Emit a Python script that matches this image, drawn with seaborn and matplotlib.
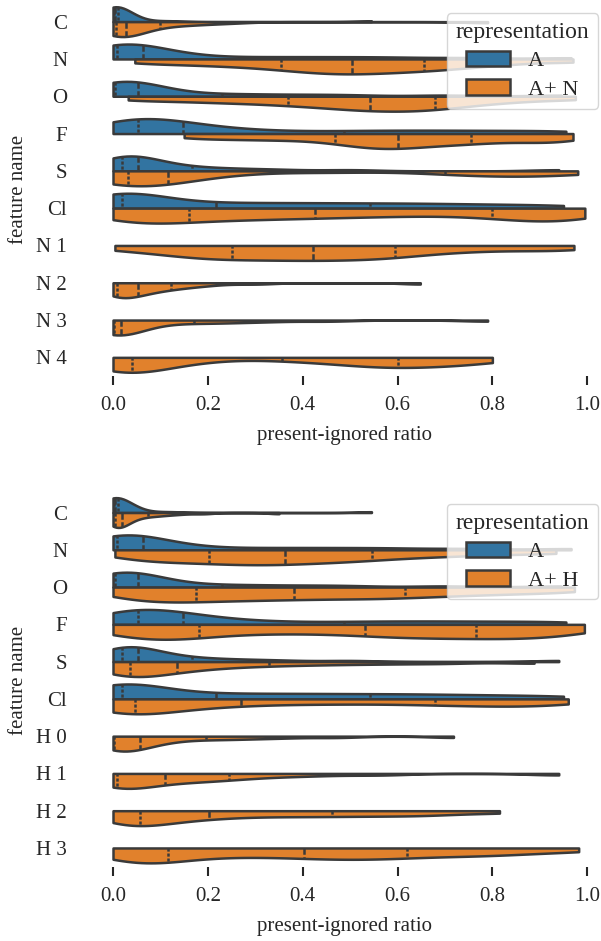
import numpy as np
import pandas as pd
import matplotlib
matplotlib.use("Agg")
import matplotlib.pyplot as plt
import seaborn as sns

# present-ignored ratios (21 quantile points per violin)
# representation "A" (same atoms in both panels)
feat_a = ["C", "N", "O", "F", "S", "Cl"]
a_C = [0.0, 0.0, 0.001, 0.001, 0.002, 0.002, 0.003, 0.004, 0.004, 0.005, 0.005,
       0.006, 0.007, 0.008, 0.009, 0.01, 0.015, 0.025, 0.05, 0.12, 0.545]
a_N = [0.0, 0.0, 0.0, 0.002, 0.005, 0.008, 0.015, 0.025, 0.035, 0.05, 0.064,
       0.08, 0.1, 0.13, 0.2, 0.305, 0.4, 0.5, 0.6, 0.75, 0.966]
a_O = [0.0, 0.0, 0.0, 0.001, 0.002, 0.004, 0.01, 0.02, 0.03, 0.04, 0.052,
       0.065, 0.08, 0.1, 0.15, 0.229, 0.3, 0.4, 0.5, 0.7, 0.945]
a_F = [0.0, 0.01, 0.02, 0.03, 0.04, 0.053, 0.07, 0.09, 0.11, 0.13, 0.148,
       0.18, 0.22, 0.28, 0.37, 0.488, 0.58, 0.67, 0.76, 0.86, 0.955]
a_S = [0.0, 0.003, 0.007, 0.01, 0.015, 0.02, 0.027, 0.034, 0.04, 0.046, 0.052,
       0.065, 0.08, 0.1, 0.13, 0.166, 0.21, 0.27, 0.35, 0.5, 0.94]
a_Cl = [0.0, 0.002, 0.005, 0.008, 0.012, 0.018, 0.03, 0.06, 0.1, 0.15, 0.217,
        0.28, 0.34, 0.41, 0.47, 0.543, 0.61, 0.68, 0.76, 0.85, 0.95]

# representation "A+ N"
feat_n = ["C", "N", "O", "F", "S", "Cl", "N 1", "N 2", "N 3", "N 4"]
n_C = [0.0, 0.0, 0.001, 0.002, 0.004, 0.006, 0.009, 0.013, 0.017, 0.022, 0.027,
       0.034, 0.042, 0.052, 0.07, 0.1, 0.125, 0.155, 0.19, 0.25, 0.79]
n_N = [0.046, 0.13, 0.2, 0.26, 0.31, 0.355, 0.39, 0.42, 0.45, 0.478, 0.503,
       0.53, 0.56, 0.59, 0.622, 0.655, 0.69, 0.73, 0.78, 0.85, 0.97]
n_O = [0.032, 0.12, 0.2, 0.26, 0.32, 0.369, 0.41, 0.45, 0.485, 0.515, 0.541,
       0.57, 0.598, 0.625, 0.652, 0.678, 0.71, 0.75, 0.8, 0.87, 0.975]
n_F = [0.15, 0.22, 0.29, 0.35, 0.41, 0.469, 0.5, 0.53, 0.555, 0.578, 0.6,
       0.625, 0.655, 0.69, 0.725, 0.756, 0.8, 0.85, 0.9, 0.94, 0.97]
n_S = [0.0, 0.005, 0.01, 0.016, 0.023, 0.031, 0.045, 0.06, 0.078, 0.097, 0.116,
       0.14, 0.18, 0.25, 0.45, 0.70, 0.76, 0.82, 0.87, 0.92, 0.98]
n_Cl = [0.0, 0.02, 0.045, 0.075, 0.115, 0.16, 0.21, 0.26, 0.31, 0.37, 0.425,
        0.49, 0.56, 0.63, 0.72, 0.80, 0.85, 0.9, 0.94, 0.97, 0.995]
n_N1 = [0.004, 0.09, 0.14, 0.18, 0.215, 0.25, 0.285, 0.32, 0.355, 0.39, 0.422,
        0.455, 0.49, 0.525, 0.56, 0.595, 0.64, 0.7, 0.78, 0.88, 0.972]
n_N2 = [0.0, 0.0, 0.002, 0.004, 0.006, 0.008, 0.015, 0.024, 0.033, 0.042, 0.052,
        0.064, 0.077, 0.09, 0.105, 0.123, 0.145, 0.17, 0.21, 0.3, 0.648]
n_N3 = [0.0, 0.0, 0.0, 0.001, 0.001, 0.002, 0.004, 0.006, 0.009, 0.012, 0.016,
        0.025, 0.045, 0.08, 0.12, 0.17, 0.21, 0.26, 0.33, 0.45, 0.79]
n_N4 = [0.0, 0.004, 0.01, 0.018, 0.027, 0.039, 0.06, 0.09, 0.13, 0.2, 0.357,
        0.44, 0.5, 0.54, 0.57, 0.60, 0.635, 0.67, 0.71, 0.755, 0.80]

# representation "A+ H"
feat_h = ["C", "N", "O", "F", "S", "Cl", "H 0", "H 1", "H 2", "H 3"]
h_C = [0.0, 0.0, 0.001, 0.002, 0.003, 0.004, 0.007, 0.01, 0.013, 0.016, 0.02,
       0.026, 0.034, 0.044, 0.058, 0.074, 0.09, 0.11, 0.14, 0.19, 0.35]
h_N = [0.004, 0.05, 0.09, 0.125, 0.165, 0.203, 0.235, 0.268, 0.3, 0.33, 0.362,
       0.395, 0.43, 0.468, 0.507, 0.547, 0.6, 0.66, 0.73, 0.82, 0.934]
h_O = [0.0, 0.035, 0.07, 0.105, 0.14, 0.175, 0.215, 0.255, 0.297, 0.339, 0.381,
       0.428, 0.475, 0.522, 0.568, 0.615, 0.67, 0.73, 0.8, 0.88, 0.973]
h_F = [0.0, 0.035, 0.072, 0.11, 0.146, 0.182, 0.25, 0.32, 0.39, 0.46, 0.531,
       0.578, 0.625, 0.672, 0.72, 0.766, 0.81, 0.855, 0.9, 0.945, 0.994]
h_S = [0.0, 0.006, 0.013, 0.02, 0.028, 0.036, 0.053, 0.07, 0.09, 0.112, 0.135,
       0.16, 0.19, 0.23, 0.28, 0.33, 0.4, 0.48, 0.58, 0.7, 0.888]
h_Cl = [0.0, 0.008, 0.017, 0.026, 0.036, 0.046, 0.08, 0.125, 0.17, 0.22, 0.269,
        0.35, 0.43, 0.51, 0.6, 0.68, 0.74, 0.8, 0.86, 0.91, 0.96]
h_H0 = [0.0, 0.0, 0.0, 0.0, 0.001, 0.002, 0.012, 0.024, 0.035, 0.045, 0.056,
        0.07, 0.087, 0.11, 0.15, 0.196, 0.24, 0.29, 0.36, 0.47, 0.718]
h_H1 = [0.0, 0.0, 0.002, 0.004, 0.006, 0.008, 0.025, 0.045, 0.066, 0.087, 0.109,
        0.135, 0.162, 0.19, 0.217, 0.244, 0.29, 0.35, 0.43, 0.56, 0.94]
h_H2 = [0.0, 0.012, 0.024, 0.035, 0.045, 0.056, 0.08, 0.11, 0.14, 0.17, 0.202,
        0.25, 0.3, 0.355, 0.41, 0.462, 0.52, 0.58, 0.64, 0.7, 0.815]
h_H3 = [0.0, 0.023, 0.047, 0.07, 0.094, 0.117, 0.174, 0.231, 0.288, 0.345, 0.402,
        0.445, 0.488, 0.532, 0.575, 0.619, 0.68, 0.74, 0.8, 0.87, 0.982]

vals_a = [a_C, a_N, a_O, a_F, a_S, a_Cl]
vals_n = [n_C, n_N, n_O, n_F, n_S, n_Cl, n_N1, n_N2, n_N3, n_N4]
vals_h = [h_C, h_N, h_O, h_F, h_S, h_Cl, h_H0, h_H1, h_H2, h_H3]


def long_table(groups):
    rows = []
    for rep, feats, vals in groups:
        for f, v in zip(feats, vals):
            for x in v:
                rows.append({"feature name": f, "representation": rep,
                             "present-ignored ratio": x})
    return pd.DataFrame(rows)


df_top = long_table([("A", feat_a, vals_a), ("A+ N", feat_n, vals_n)])
df_bot = long_table([("A", feat_a, vals_a), ("A+ H", feat_h, vals_h)])

sns.set_theme(style="ticks", palette="tab10")
plt.rcParams["font.family"] = ["Liberation Serif", "DejaVu Serif"]
fs = 15
plt.rcParams.update({"font.size": fs, "axes.labelsize": fs,
                     "xtick.labelsize": fs, "ytick.labelsize": fs,
                     "legend.fontsize": 16, "legend.title_fontsize": 17})

W, H = 601, 941
fig = plt.figure(figsize=(W / 100, H / 100), dpi=100)
# axes boxes in pixels: left, top, right, bottom
ax1 = fig.add_axes([89.3 / W, 1 - 376 / H, 510.7 / W, 373 / H])
ax2 = fig.add_axes([89.3 / W, 1 - 866.6 / H, 510.7 / W, 372.7 / H])

panels = [(ax1, df_top, feat_n, ["A", "A+ N"]),
          (ax2, df_bot, feat_h, ["A", "A+ H"])]
for ax, df, order, reps in panels:
    sns.violinplot(data=df, x="present-ignored ratio", y="feature name",
                   hue="representation", order=order, hue_order=reps,
                   split=True, inner="quart", cut=0, density_norm="width",
                   bw_adjust=0.5, orient="h", linewidth=1.8,
                   linecolor="#3a3a3a", ax=ax)
    ax.set_xlim(-0.05, 1.027)
    ax.set_xticks([0.0, 0.2, 0.4, 0.6, 0.8, 1.0])
    ax.set_xticklabels(["0.0", "0.2", "0.4", "0.6", "0.8", "1.0"])
    ax.tick_params(axis="y", length=0, pad=16)
    ax.tick_params(axis="x", length=6.5, width=1.5, pad=8)
    ax.set_ylabel("feature name", labelpad=6)
    ax.set_xlabel("present-ignored ratio", labelpad=8)
    sns.despine(ax=ax, left=True, bottom=True)
    sns.move_legend(ax, "upper right", bbox_to_anchor=(0.996, 0.973),
                    title="representation", borderaxespad=0,
                    labelspacing=0.35)

fig.savefig("out.png", dpi=100)
